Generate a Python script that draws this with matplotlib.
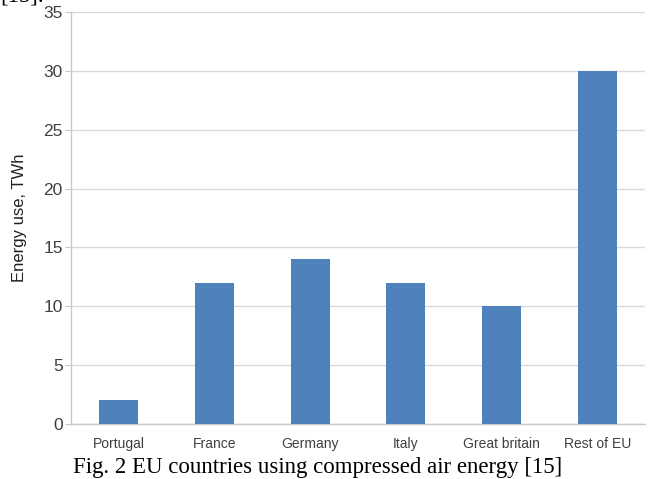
import matplotlib
matplotlib.use("Agg")
import matplotlib.pyplot as plt

categories = ["Portugal", "France", "Germany", "Italy", "Great britain", "Rest of EU"]
energy_twh = [2, 12, 14, 12, 10, 30]
y_ticks = [0, 5, 10, 15, 20, 25, 30, 35]

fig = plt.figure(figsize=(6.65, 4.79), dpi=100)
ax = fig.add_axes([0.1068, 0.1148, 0.8632, 0.8602])

x = range(len(categories))
ax.bar(x, energy_twh, width=0.41, color="#4f81bd", zorder=3)

ax.set_xlim(-0.5, len(categories) - 0.5)
ax.set_ylim(0, 35)
ax.set_yticks(y_ticks)
ax.set_xticks(list(x))
ax.set_xticklabels(categories, fontsize=10, color="#404040", family="Liberation Sans")
ax.set_yticklabels([str(v) for v in y_ticks], fontsize=12.5, color="#404040",
                   family="Liberation Sans")
ax.set_ylabel("Energy use, TWh", fontsize=12, color="#202020",
              family="Liberation Sans")
ax.yaxis.set_label_coords(-0.077, 0.5)

ax.grid(axis="y", color="#d9d9d9", linewidth=1, zorder=0)
for side in ("top", "right"):
    ax.spines[side].set_visible(False)
for side in ("left", "bottom"):
    ax.spines[side].set_color("#c8c8c8")
    ax.spines[side].set_linewidth(1)
ax.tick_params(axis="y", length=4.5, color="#c8c8c8", pad=1.5)
ax.tick_params(axis="x", length=0, pad=9.5)

fig.text(73 / 665, 6 / 479, "Fig. 2 EU countries using compressed air energy [15]",
         fontsize=16.5, family="Liberation Serif", color="black", va="baseline")
fig.text(0.0, 0.987, "[15].", fontsize=16.5, family="Liberation Serif",
         color="black", va="bottom")

fig.savefig("out.png", dpi=100)
